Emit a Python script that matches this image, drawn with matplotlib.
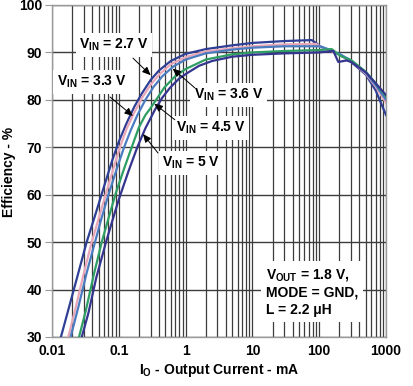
import matplotlib
matplotlib.use("Agg")
import matplotlib.pyplot as plt
from matplotlib.ticker import LogLocator, FixedLocator, NullFormatter

plt.rcParams['font.family'] = ['Liberation Sans', 'DejaVu Sans']
plt.rcParams['font.weight'] = 'bold'
plt.rcParams['mathtext.fontset'] = 'custom'
plt.rcParams['mathtext.rm'] = 'Liberation Sans:bold'
plt.rcParams['mathtext.bf'] = 'Liberation Sans:bold'
plt.rcParams['mathtext.it'] = 'Liberation Sans:bold'
plt.rcParams['mathtext.default'] = 'bf'

# ---- data (I in mA, efficiency in %) ----
i_27 = [0.0136, 0.018, 0.025, 0.033, 0.045, 0.06, 0.08, 0.1, 0.13, 0.17, 0.22, 0.3, 0.4, 0.6, 1.0, 2.0, 5.0, 10, 30, 77, 90, 100, 150, 200, 300, 500, 700, 1000]
e_27 = [30, 36.3, 43.7, 50, 56, 61.7, 67.3, 71.2, 75, 78.5, 81.3, 84.2, 86.2, 88.2, 89.7, 90.7, 91.5, 92.0, 92.4, 92.6, 92.0, 91.4, 90.3, 89.6, 88.0, 85.3, 82.0, 76.8]

i_33 = [0.0175, 0.022, 0.03, 0.0393, 0.05, 0.065, 0.085, 0.104, 0.13, 0.17, 0.22, 0.3, 0.4, 0.6, 1.0, 2.0, 5.0, 10, 30, 90, 110, 150, 200, 300, 500, 700, 1000]
e_33 = [30, 35.5, 43.5, 50, 55, 60.5, 66, 70, 73.8, 77.3, 80.3, 83.2, 85.3, 87.5, 89.0, 90.2, 90.9, 91.3, 91.7, 91.8, 91.0, 90.3, 89.6, 88.2, 85.5, 82.8, 79.4]

i_36 = [0.019, 0.025, 0.033, 0.044, 0.055, 0.07, 0.095, 0.12, 0.15, 0.19, 0.25, 0.33, 0.45, 0.65, 1.0, 2.0, 5.0, 10, 30, 100, 130, 150, 200, 300, 500, 700, 1000]
e_36 = [30, 36.5, 43.5, 50, 55, 60, 65.8, 70, 73.5, 76.8, 80.0, 82.7, 85.0, 87.0, 88.5, 89.8, 90.6, 91.0, 91.3, 91.3, 90.8, 90.4, 89.7, 88.3, 85.7, 83.1, 80.0]

i_45 = [0.0254, 0.032, 0.042, 0.0555, 0.07, 0.09, 0.12, 0.156, 0.2, 0.25, 0.29, 0.37, 0.48, 0.7, 1.0, 2.0, 5.0, 10, 30, 100, 154, 200, 250, 300, 500, 700, 1000]
e_45 = [30, 35.5, 43, 50, 55, 60.3, 65.5, 70, 74.2, 76.8, 78.0, 80.2, 82.6, 85.0, 86.5, 88.5, 89.6, 90.0, 90.3, 90.5, 90.7, 89.4, 88.8, 88.4, 85.9, 83.5, 80.7]

i_50 = [0.0279, 0.035, 0.046, 0.0643, 0.08, 0.1, 0.14, 0.189, 0.25, 0.35, 0.45, 0.58, 0.8, 1.1, 1.6, 2.5, 5.0, 10, 30, 100, 163, 193, 257, 300, 500, 700, 1000]
e_50 = [30, 35, 42.5, 50, 54.5, 59, 65, 70, 74, 78, 80.5, 82.5, 84.5, 85.8, 87.2, 88.2, 89.1, 89.5, 89.8, 90.0, 90.3, 88.0, 88.3, 88.0, 85.8, 83.5, 81.0]

series = [
    (i_27, e_27, '#2f3f95'),
    (i_33, e_33, '#e8a7b9'),
    (i_36, e_36, '#4b7cc0'),
    (i_45, e_45, '#2f9e64'),
    (i_50, e_50, '#35358f'),
]

x_ticks = [0.01, 0.1, 1, 10, 100, 1000]
x_ticklabels = ['0.01', '0.1', '1', '10', '100', '1000']
y_ticks = [30, 40, 50, 60, 70, 80, 90, 100]

fig = plt.figure(figsize=(4.14, 3.86), dpi=100)
ax = fig.add_axes([52/414, 49/386, 334/414, 332/386])

for xs, ys, c in series:
    ax.plot(xs, ys, color=c, lw=1.6, zorder=4, solid_joinstyle='round')

ax.set_xscale('log')
ax.set_xlim(0.01, 1000)
ax.set_ylim(30, 100)
ax.xaxis.set_major_locator(FixedLocator(x_ticks))
ax.set_xticklabels(x_ticklabels)
ax.xaxis.set_minor_locator(LogLocator(base=10, subs=range(2, 10), numticks=20))
ax.xaxis.set_minor_formatter(NullFormatter())
ax.set_yticks(y_ticks)

ax.grid(which='both', axis='x', color='#3c3c3c', lw=0.9, zorder=1)
ax.grid(which='major', axis='y', color='#3c3c3c', lw=1.0, zorder=1)
ax.set_axisbelow(True)
for s in ax.spines.values():
    s.set_color('#9a9a9a')
    s.set_linewidth(1.0)

ax.tick_params(axis='x', which='both', length=0, pad=5, labelsize=10)
ax.tick_params(axis='y', which='major', length=5, color='#9a9a9a', pad=2, labelsize=10)

ax.set_xlabel(r'I$_{\mathbf{O}}$ - Output Current - mA', fontsize=10, fontweight='bold', labelpad=3)
ax.set_ylabel('Efficiency - %', fontsize=10, fontweight='bold')
ax.yaxis.set_label_coords(-0.108, 0.497)

box = dict(boxstyle='square,pad=0.25', fc='white', ec='none')
arrow = dict(arrowstyle='-|>,head_length=0.5,head_width=0.22', color='black', lw=0.7, shrinkA=0, shrinkB=0)

labels = [
    (r'V$_{\mathbf{IN}}$ = 2.7 V', (0.085, 91.6), (0.163, 88.8), (0.30, 85.2)),
    (r'V$_{\mathbf{IN}}$ = 3.3 V', (0.039, 83.8), (0.074, 80.6), (0.163, 76.6)),
    (r'V$_{\mathbf{IN}}$ = 3.6 V', (4.39, 81.0), (1.38, 82.5), (0.64, 86.6)),
    (r'V$_{\mathbf{IN}}$ = 4.5 V', (2.36, 74.1), (0.69, 75.8), (0.34, 79.2)),
    (r'V$_{\mathbf{IN}}$ = 5 V', (1.22, 66.7), (0.386, 68.8), (0.23, 72.8)),
]
for txt, tpos, tail, tip in labels:
    ax.text(tpos[0], tpos[1], txt, fontsize=10, fontweight='bold', ha='center', va='center',
            bbox=box, zorder=3)
    ax.annotate('', xy=tip, xytext=tail, arrowprops=arrow, zorder=5)

ax.text(16.0, 39.5, 'V$_{\\mathbf{OUT}}$ = 1.8 V,\nMODE = GND,\nL = 2.2 \u03bcH', fontsize=10,
        fontweight='bold', ha='left', va='center', linespacing=1.25,
        bbox=dict(boxstyle='square,pad=0.35', fc='white', ec='none'), zorder=3)

fig.savefig('out.png', dpi=100)
